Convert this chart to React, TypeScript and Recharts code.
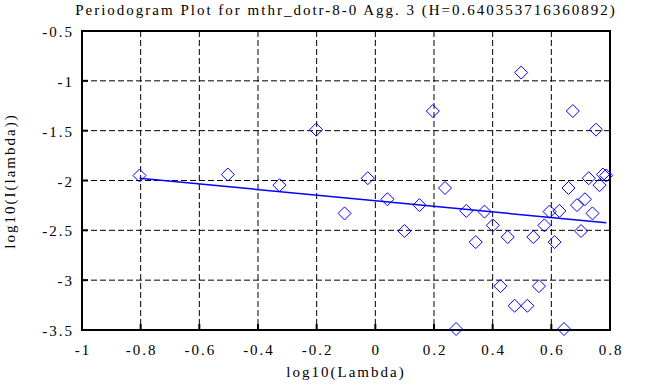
import React from "react";
import {
  ScatterChart,
  Scatter,
  XAxis,
  YAxis,
  CartesianGrid,
  ReferenceArea,
} from "recharts";

const logLambda = [
  -0.8039, -0.5029, -0.3268, -0.2018, -0.1049, -0.0257, 0.0412, 0.0992, 0.1504,
  0.1961, 0.2375, 0.2753, 0.3101, 0.3423, 0.3722, 0.4003, 0.4266, 0.4514, 0.4749,
  0.4971, 0.5183, 0.5385, 0.5578, 0.5763, 0.594, 0.6111, 0.6275, 0.6433, 0.6585,
  0.6732, 0.6875, 0.7013, 0.7146, 0.7276, 0.7402, 0.7524, 0.7643, 0.7759, 0.7872,
];
const logPeriodogram = [
  -1.95, -1.94, -2.047, -1.49, -2.33, -1.977, -2.188, -2.507, -2.247, -1.303,
  -2.075, -3.49, -2.305, -2.618, -2.312, -2.45, -3.06, -2.567, -3.257, -0.917,
  -3.257, -2.567, -3.06, -2.45, -2.312, -2.618, -2.305, -3.49, -2.075, -1.303,
  -2.247, -2.507, -2.188, -1.977, -2.33, -1.49, -2.047, -1.94, -1.95,
];
const fitX = [-0.8039, 0.7872];
const fitY = [-1.977, -2.424];

const xTicks = [-1, -0.8, -0.6, -0.4, -0.2, 0, 0.2, 0.4, 0.6, 0.8];
const yTicks = [-3.5, -3, -2.5, -2, -1.5, -1, -0.5];
const title = "Periodogram Plot for mthr_dotr-8-0 Agg. 3 (H=0.640353716360892)";
const xLabel = "log10(Lambda)";
const yLabel = "log10(I(lambda))";

const points = logLambda.map((x, i) => ({ x, y: logPeriodogram[i] }));
const fitLine = fitX.map((x, i) => ({ x, y: fitY[i] }));

const FONT = "'Liberation Serif', 'Times New Roman', serif";
const BLUE = "#0000ff";

const textStyle = {
  fontFamily: FONT,
  fontSize: 15,
  letterSpacing: 2,
  fill: "#000",
};

const BottomTick = (props: any) => {
  const { x, y, payload } = props;
  return (
    <g>
      <line x1={x} y1={y} x2={x} y2={y - 6} stroke="#000" strokeWidth={2} />
      <text x={x + 1} y={y + 25} textAnchor="middle" style={textStyle}>
        {String(payload.value)}
      </text>
    </g>
  );
};

const LeftTick = (props: any) => {
  const { x, y, payload } = props;
  return (
    <g>
      <line x1={x} y1={y} x2={x + 6} y2={y} stroke="#000" strokeWidth={2} />
      <text x={x - 8} y={y + 6} textAnchor="end" style={textStyle}>
        {String(payload.value)}
      </text>
    </g>
  );
};

const TopTick = (props: any) => {
  const { x, y } = props;
  return <line x1={x} y1={y} x2={x} y2={y + 6} stroke="#000" strokeWidth={2} />;
};

const RightTick = (props: any) => {
  const { x, y } = props;
  return <line x1={x} y1={y} x2={x - 6} y2={y} stroke="#000" strokeWidth={2} />;
};

const Diamond = (props: any) => {
  const { cx, cy } = props;
  if (cx == null || cy == null) return <g />;
  const r = 6.5;
  return (
    <path
      d={`M${cx},${cy - r}L${cx + r},${cy}L${cx},${cy + r}L${cx - r},${cy}Z`}
      fill="none"
      stroke={BLUE}
      strokeWidth={1}
    />
  );
};

const NoShape = () => <g />;

export default function App() {
  return (
    <div
      style={{
        position: "absolute",
        left: 0,
        top: 0,
        width: 668,
        height: 387,
        background: "#fff",
      }}
    >
      <ScatterChart
        width={668}
        height={387}
        margin={{ top: 31, right: 58, bottom: 0, left: 0 }}
      >
        <CartesianGrid stroke="#000" strokeDasharray="6 3" strokeWidth={1} />
        <XAxis
          dataKey="x"
          type="number"
          domain={[-1, 0.8]}
          ticks={xTicks}
          interval={0}
          height={57}
          tickSize={0}
          tickMargin={0}
          axisLine={false}
          tickLine={false}
          tick={<BottomTick />}
        />
        <XAxis
          xAxisId="top"
          orientation="top"
          dataKey="x"
          type="number"
          domain={[-1, 0.8]}
          ticks={xTicks}
          interval={0}
          height={0}
          tickSize={0}
          tickMargin={0}
          axisLine={false}
          tickLine={false}
          tick={<TopTick />}
        />
        <YAxis
          dataKey="y"
          type="number"
          domain={[-3.5, -0.5]}
          ticks={yTicks}
          interval={0}
          width={82}
          tickSize={0}
          tickMargin={0}
          axisLine={false}
          tickLine={false}
          tick={<LeftTick />}
        />
        <YAxis
          yAxisId="right"
          orientation="right"
          dataKey="y"
          type="number"
          domain={[-3.5, -0.5]}
          ticks={yTicks}
          interval={0}
          width={0}
          tickSize={0}
          tickMargin={0}
          axisLine={false}
          tickLine={false}
          tick={<RightTick />}
        />
        <ReferenceArea
          x1={-1}
          x2={0.8}
          y1={-3.5}
          y2={-0.5}
          fill="none"
          fillOpacity={0}
          stroke="#000"
          strokeWidth={2}
        />
        <Scatter
          data={fitLine}
          line={{ stroke: BLUE, strokeWidth: 1.5 }}
          shape={<NoShape />}
          isAnimationActive={false}
        />
        <Scatter data={points} shape={<Diamond />} isAnimationActive={false} />
        <text x={346} y={15} textAnchor="middle" style={textStyle}>
          {title}
        </text>
        <text x={346} y={377} textAnchor="middle" style={textStyle}>
          {xLabel}
        </text>
        <text
          x={15}
          y={181}
          textAnchor="middle"
          transform="rotate(-90, 15, 181)"
          style={textStyle}
        >
          {yLabel}
        </text>
      </ScatterChart>
    </div>
  );
}
